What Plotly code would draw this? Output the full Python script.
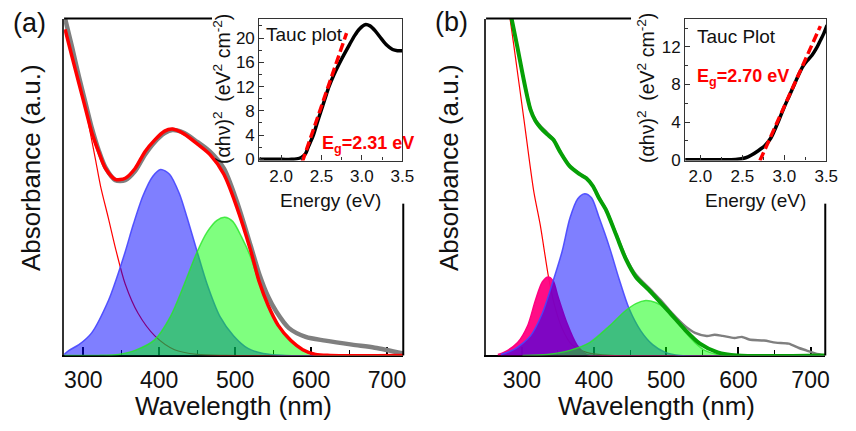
import plotly.graph_objects as go

W, H = 856, 431
FONT = "Liberation Sans, Arial, sans-serif"

# ---------------- Panel (a): absorbance spectra ----------------
a_meas_wl = [276.0, 285.1, 294.2, 303.2, 311.0, 320.1, 329.2, 342.2, 355.2, 368.2, 381.2, 394.2, 407.1, 417.5,
             433.1, 450.0, 466.9, 485.1, 501.9, 520.1, 531.8, 543.5, 553.9, 570.8, 592.9, 618.8, 653.9, 683.8, 721.4]
a_meas_abs = [1.0, 0.916, 0.828, 0.747, 0.677, 0.610, 0.558, 0.520, 0.520, 0.547, 0.596, 0.634, 0.660, 0.669,
              0.660, 0.634, 0.605, 0.555, 0.459, 0.328, 0.241, 0.174, 0.131, 0.081, 0.055, 0.044, 0.032, 0.023, 0.006]

a_fit_wl = [276.0, 285.1, 294.2, 303.2, 311.0, 320.1, 329.2, 342.2, 355.2, 368.2, 381.2, 394.2, 407.1, 417.5,
            433.1, 450.0, 466.9, 485.1, 501.9, 520.1, 531.8, 543.5, 556.5, 573.4, 589.0, 605.8, 625.3, 721.4]
a_fit_abs = [0.968, 0.887, 0.808, 0.730, 0.663, 0.605, 0.555, 0.523, 0.526, 0.555, 0.605, 0.640, 0.666, 0.672,
             0.657, 0.628, 0.596, 0.538, 0.442, 0.314, 0.218, 0.148, 0.090, 0.044, 0.017, 0.003, 0.0, 0.0]

a_bg_wl = [276.0, 285.1, 294.2, 303.2, 309.7, 316.2, 322.7, 333.1, 343.5, 355.2, 372.1, 394.2, 420.1, 450.0, 489.0, 721.4]
a_bg_abs = [0.968, 0.887, 0.808, 0.730, 0.655, 0.580, 0.503, 0.407, 0.308, 0.212, 0.125, 0.058, 0.017, 0.003, 0.0, 0.0]

a_p1_wl = [274.7, 281.2, 294.2, 311.0, 333.1, 343.5, 355.2, 365.6, 378.6, 391.6, 401.9, 413.6, 426.6, 437.0,
           450.0, 463.0, 479.9, 498.1, 517.5, 537.0, 566.9, 721.4]
a_p1_abs = [0.003, 0.015, 0.032, 0.067, 0.163, 0.227, 0.308, 0.387, 0.474, 0.532, 0.552, 0.538, 0.480, 0.407,
            0.308, 0.212, 0.116, 0.058, 0.020, 0.006, 0.0, 0.0]

a_p2_wl = [275.0, 320.1, 346.1, 368.2, 394.2, 414.9, 433.1, 450.0, 463.0, 476.0, 486.4, 496.8, 508.4, 520.1,
           531.8, 543.5, 556.5, 569.5, 586.4, 603.2, 618.8, 721.4]
a_p2_abs = [0.0, 0.0, 0.003, 0.015, 0.047, 0.116, 0.212, 0.308, 0.366, 0.401, 0.410, 0.398, 0.352, 0.294,
            0.214, 0.146, 0.088, 0.049, 0.020, 0.003, 0.0, 0.0]

# Tauc plot (a)
a_tauc_E = [1.70, 2.01, 2.13, 2.19, 2.25, 2.30, 2.335, 2.40, 2.445, 2.494, 2.543, 2.591, 2.652, 2.713, 2.78,
            2.85, 2.91, 2.97, 3.04, 3.10, 3.17, 3.24, 3.31, 3.38, 3.44, 3.52]
a_tauc_y = [0.0, 0.0, 0.0, 0.08, 0.32, 0.89, 2.0, 4.03, 5.97, 7.98, 10.0, 11.94, 13.9, 15.6, 17.3,
            19.0, 20.4, 21.5, 22.2, 22.0, 21.1, 19.9, 18.8, 18.1, 17.9, 17.9]
a_lin_E = [2.26, 2.81]
a_lin_y = [-0.5, 20.8]

# ---------------- Panel (b): absorbance spectra ----------------
b_fit_wl = [284.6, 293.7, 302.7, 311.9, 318.7, 325.5, 334.7, 343.7, 352.8, 366.5, 380.1, 389.3, 398.3, 407.4,
            417.0, 430.6, 444.3, 458.0, 478.4, 505.7, 526.2, 546.7, 571.3, 598.6, 720.4]
b_fit_abs = [1.012, 0.916, 0.817, 0.730, 0.697, 0.677, 0.657, 0.640, 0.605, 0.561, 0.538, 0.526, 0.503, 0.465,
             0.430, 0.358, 0.285, 0.233, 0.189, 0.125, 0.076, 0.035, 0.009, 0.0, 0.0]

b_meas_wl = [284.6, 293.7, 302.7, 311.9, 318.7, 325.5, 334.7, 343.7, 352.8, 366.5, 380.1, 389.3, 398.3, 407.4,
             417.0, 430.6, 444.3, 458.0, 478.4, 492.0, 505.7, 526.2, 539.9, 556.2, 567.0, 578.1, 594.5, 605.0,
             615.0, 635.5, 651.8, 669.6, 684.0, 694.1, 706.4, 720.0]
b_meas_abs = [1.012, 0.916, 0.818, 0.733, 0.700, 0.682, 0.662, 0.642, 0.607, 0.563, 0.540, 0.528, 0.505, 0.467,
              0.432, 0.361, 0.290, 0.240, 0.195, 0.165, 0.131, 0.087, 0.067, 0.058, 0.061, 0.058, 0.052, 0.055,
              0.047, 0.044, 0.038, 0.035, 0.022, 0.015, 0.006, 0.0]

b_bg_wl = [283.6, 289.1, 302.7, 316.4, 325.5, 336.9, 344.6, 355.6, 369.2, 389.7, 423.8, 720.4]
b_bg_abs = [1.0, 0.916, 0.703, 0.488, 0.387, 0.233, 0.154, 0.081, 0.032, 0.009, 0.0, 0.0]

b_p1_wl = [266.7, 275.0, 294.1, 307.8, 318.7, 328.3, 336.5, 343.3, 350.1, 362.4, 376.0, 389.7, 403.4, 720.4]
b_p1_abs = [0.003, 0.009, 0.038, 0.087, 0.163, 0.218, 0.233, 0.221, 0.174, 0.096, 0.032, 0.003, 0.0, 0.0]

b_p2_wl = [270.9, 288.7, 311.9, 328.3, 341.9, 355.6, 366.5, 377.4, 387.0, 396.5, 407.4, 421.1, 434.7, 448.4,
           464.8, 481.2, 498.9, 519.4, 720.4]
b_p2_abs = [0.003, 0.017, 0.058, 0.125, 0.212, 0.308, 0.407, 0.465, 0.480, 0.468, 0.407, 0.323, 0.227, 0.140,
            0.073, 0.032, 0.009, 0.0, 0.0]

b_p3_wl = [300.9, 335.1, 366.5, 393.8, 421.1, 444.3, 458.0, 471.6, 485.3, 498.9, 512.6, 526.2, 539.9, 553.5,
           571.3, 594.5, 720.4]
b_p3_abs = [0.0, 0.003, 0.015, 0.038, 0.087, 0.134, 0.154, 0.163, 0.157, 0.140, 0.110, 0.070, 0.038, 0.015,
            0.003, 0.0, 0.0]

# Tauc plot (b)
b_tauc_E = [1.80, 2.13, 2.42, 2.54, 2.61, 2.69, 2.77, 2.84, 2.94, 3.00, 3.06, 3.12, 3.17, 3.22, 3.27, 3.33,
            3.38, 3.42, 3.47, 3.51]
b_tauc_y = [0.0, 0.0, 0.02, 0.2, 0.5, 0.95, 1.5, 2.3, 4.3, 5.6, 6.8, 8.0, 9.0, 9.9, 10.5, 11.1,
            11.8, 12.5, 13.4, 14.3]
b_lin_E = [2.71, 3.43]
b_lin_y = [-0.1, 14.2]

main_ticks = [300, 400, 500, 600, 700]
inset_xticks = [2.0, 2.5, 3.0, 3.5]
a_inset_yticks = [0, 4, 8, 12, 16, 20]
b_inset_yticks = [0, 4, 8, 12]


def fx(p):
    return p / W


def fy(p):
    return 1 - p / H


fig = go.Figure()


def line(x, y, ax, color, width, dash=None, shape="spline"):
    fig.add_trace(go.Scatter(x=x, y=y, xaxis="x" + ax, yaxis="y" + ax, mode="lines",
                             line=dict(color=color, width=width, dash=dash, shape=shape, smoothing=0.8),
                             hoverinfo="skip", showlegend=False))


def band(x, y, ax, fill, edge):
    fig.add_trace(go.Scatter(x=x, y=y, xaxis="x" + ax, yaxis="y" + ax, mode="lines", fill="tozeroy",
                             fillcolor=fill, line=dict(color=edge, width=1.5, shape="spline", smoothing=0.8),
                             hoverinfo="skip", showlegend=False))


# panel (a) main
line(a_bg_wl, a_bg_abs, "", "#ff0000", 1.2)
band(a_p1_wl, a_p1_abs, "", "rgba(0,0,255,0.5)", "rgba(70,70,255,0.9)")
band(a_p2_wl, a_p2_abs, "", "rgba(0,255,0,0.5)", "rgba(40,230,40,0.8)")
line(a_meas_wl, a_meas_abs, "", "#7f7f7f", 4.5)
line(a_fit_wl, a_fit_abs, "", "#ff0000", 3.5)
# panel (a) inset
line(a_tauc_E, a_tauc_y, "2", "#000000", 3.5)
line(a_lin_E, a_lin_y, "2", "#ff0000", 3.5, dash="9px,4px", shape="linear")
# panel (b) main
line(b_bg_wl, b_bg_abs, "3", "#ff0000", 1.2)
band(b_p1_wl, b_p1_abs, "3", "rgba(255,0,128,0.95)", "rgba(255,0,128,1)")
band(b_p2_wl, b_p2_abs, "3", "rgba(0,0,255,0.5)", "rgba(70,70,255,0.9)")
band(b_p3_wl, b_p3_abs, "3", "rgba(0,255,0,0.5)", "rgba(40,230,40,0.8)")
line(b_meas_wl, b_meas_abs, "3", "#7f7f7f", 2.5)
line(b_fit_wl, b_fit_abs, "3", "#06a006", 4)
# panel (b) inset
line(b_tauc_E, b_tauc_y, "4", "#000000", 3.5)
line(b_lin_E, b_lin_y, "4", "#ff0000", 3.5, dash="9px,4px", shape="linear")


def main_x(domain, rng, anchor):
    return dict(domain=domain, range=rng, anchor=anchor, showgrid=False, zeroline=False,
                showline=True, linecolor="#000", linewidth=2, layer="below traces",
                tickmode="array", tickvals=main_ticks, ticks="inside", ticklen=8, tickwidth=1.5,
                tickcolor="#000", tickfont=dict(family=FONT, size=23, color="#111"),
                ticklabelstandoff=3,
                minor=dict(dtick=50, tick0=0, ticks="inside", ticklen=5, tickwidth=1.2, tickcolor="#000"))


def main_y(domain, anchor):
    return dict(domain=domain, range=[0, 1], anchor=anchor, showgrid=False, zeroline=False,
                showline=True, linecolor="#333", linewidth=2, showticklabels=False, ticks="",
                layer="below traces")


def inset_x(domain, rng, anchor):
    return dict(domain=domain, range=rng, anchor=anchor, showgrid=False, zeroline=False,
                showline=True, mirror=True, linecolor="#333", linewidth=1.2,
                tickmode="array", tickvals=inset_xticks, ticktext=["2.0", "2.5", "3.0", "3.5"],
                ticks="inside", ticklen=5, tickwidth=1.2, tickcolor="#333",
                tickfont=dict(family=FONT, size=17, color="#111"),
                minor=dict(dtick=0.25, tick0=0, ticks="inside", ticklen=3, tickcolor="#333"))


def inset_y(domain, rng, anchor, vals):
    return dict(domain=domain, range=rng, anchor=anchor, showgrid=False, zeroline=False,
                showline=True, mirror=True, linecolor="#333", linewidth=1.2,
                tickmode="array", tickvals=vals, ticks="inside", ticklen=5, tickwidth=1.2,
                tickcolor="#333", tickfont=dict(family=FONT, size=17, color="#111"),
                minor=dict(dtick=2, tick0=0, ticks="inside", ticklen=3, tickcolor="#333"))


main_ydom = [fy(363), fy(19)]
inset_ydom = [fy(164), fy(19)]

fig.update_layout(
    width=W, height=H, autosize=False,
    margin=dict(l=0, r=0, t=0, b=0),
    paper_bgcolor="white", plot_bgcolor="rgba(0,0,0,0)",
    font=dict(family=FONT, color="#111"),
    xaxis=main_x([fx(65), fx(409)], [274.7, 721.4], "y"),
    yaxis=main_y(main_ydom, "x"),
    xaxis2=inset_x([fx(263), fx(408)], [1.73, 3.5], "y2"),
    yaxis2=inset_y(inset_ydom, [-0.2, 23.2], "x2", a_inset_yticks),
    xaxis3=main_x([fx(493), fx(837)], [250.4, 720.4], "y3"),
    yaxis3=main_y(main_ydom, "x3"),
    xaxis4=inset_x([fx(695), fx(838)], [1.82, 3.5], "y4"),
    yaxis4=inset_y(inset_ydom, [-0.1, 15.0], "x4", b_inset_yticks),
)

# partial frame lines of main panels (top and right segments)
for x0, x1, xr in [(65, 215, 409), (493, 640, 837)]:
    fig.add_shape(type="line", xref="paper", yref="paper", x0=fx(x0), x1=fx(x1), y0=fy(19), y1=fy(19),
                  line=dict(color="#000", width=2))
    fig.add_shape(type="line", xref="paper", yref="paper", x0=fx(xr), x1=fx(xr), y0=fy(208), y1=fy(363),
                  line=dict(color="#000", width=2))


def ann(text, x, y, size, angle=0, xanchor="center", color="#111", yanchor="middle"):
    fig.add_annotation(text=text, x=fx(x), y=fy(y), xref="paper", yref="paper", showarrow=False,
                       textangle=angle, xanchor=xanchor, yanchor=yanchor,
                       font=dict(family=FONT, size=size, color=color))


ann("(a)", 30, 24, 27)
ann("(b)", 458, 22, 27)
ann("Absorbance (a.u.)", 32, 171, 26, angle=-90)
ann("Absorbance (a.u.)", 456, 171, 26, angle=-90)
ann("Wavelength (nm)", 237, 415, 26)
ann("Wavelength (nm)", 666, 415, 26)
ann("Energy (eV)", 335, 205, 19)
ann("Energy (eV)", 766, 205, 19)
ytitle = "(αhν)<sup>2</sup>\u2002(eV<sup>2</sup> cm<sup>-2</sup>)"
ann(ytitle, 225, 91, 19.5, angle=-90)
ann(ytitle, 655, 90, 19.5, angle=-90)
ann("Tauc plot", 268, 35, 19, xanchor="left")
ann("Tauc Plot", 705, 37, 19, xanchor="left")
ann("<b>E<sub>g</sub>=2.31 eV</b>", 325, 148, 18, xanchor="left", color="#ff0000")
ann("<b>E<sub>g</sub>=2.70 eV</b>", 705, 79, 18, xanchor="left", color="#ff0000")

fig.write_html("out.html")
